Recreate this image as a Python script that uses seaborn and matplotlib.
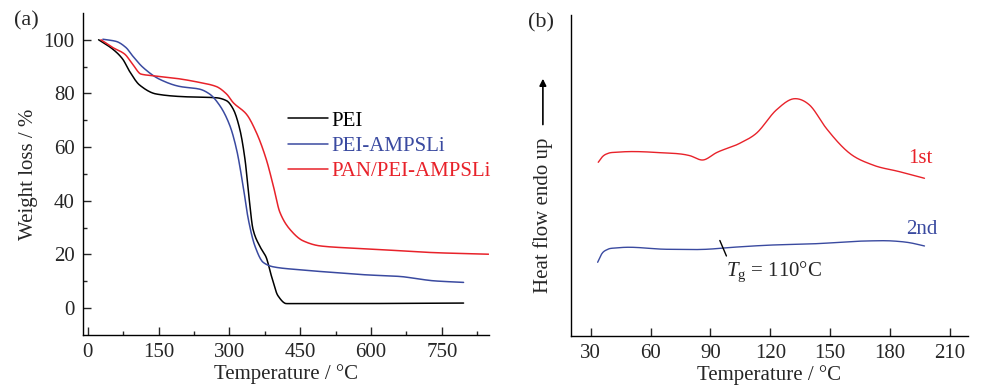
import numpy as np
import pandas as pd
import matplotlib
matplotlib.use("Agg")
import matplotlib.pyplot as plt
import seaborn as sns

# (a) TGA data
pei_T = [23, 53, 74, 88, 110, 145, 202, 272, 294, 308, 322, 333, 342, 350, 364, 378, 389, 403, 421, 520, 796]
pei_W = [100, 96.5, 92.8, 88.4, 83.1, 79.8, 78.8, 78.4, 77.3, 74.2, 66.7, 55.5, 40.6, 29.4, 23.2, 18.9, 12, 4.6, 1.7, 1.7, 1.9]

ampsli_T = [32, 60, 81, 95, 117, 152, 195, 237, 258, 280, 301, 315, 329, 340, 354, 372, 393, 449, 520, 591, 662, 704, 732, 796]
ampsli_W = [100.2, 99.4, 97.1, 94, 89.7, 85.3, 82.6, 81.6, 79.8, 75.4, 68, 59.3, 45.6, 33.2, 23.2, 17, 15.4, 14.3, 13.3, 12.4, 11.8, 10.8, 10.2, 9.6]

pan_T = [28, 53, 78, 95, 113, 138, 188, 237, 272, 294, 308, 336, 357, 378, 393, 407, 428, 456, 492, 555, 662, 732, 849]
pan_W = [100, 97.1, 94.7, 90.9, 87.2, 86.6, 85.6, 84.1, 82.6, 79.8, 76.6, 72.3, 65.5, 55.5, 45.6, 35.7, 29.4, 25.1, 23.2, 22.4, 21.4, 20.7, 20.1]

tga_names = ["PEI", "PEI-AMPSLi", "PAN/PEI-AMPSLi"]
tga_colors = ["black", "#3a4aa0", "#e8222a"]

# (b) DSC data (arbitrary units)
run1_T = [33.8, 36, 39, 43, 64.7, 79.7, 86.3, 93, 104.7, 113, 123, 132.2, 139.6, 148, 159.7, 171.3, 184.7, 197.2]
run1_H = [173.7, 179.5, 182.8, 183.7, 183.3, 180.3, 176, 183.3, 192.7, 202.7, 226, 237.3, 231, 207.7, 182.7, 171, 164.3, 157.7]
run2_T = [33.5, 35.5, 38.5, 43, 68, 88, 101.3, 118, 143, 168, 181.3, 189.7, 197.2]
run2_H = [73.7, 82, 86.6, 88, 86.7, 86.7, 88.7, 90.7, 92.3, 95, 95, 93.3, 90]

sns.set_theme(style="ticks")
plt.rcParams["font.family"] = ["Liberation Serif", "DejaVu Serif"]
plt.rcParams["mathtext.fontset"] = "custom"
plt.rcParams["mathtext.it"] = "Liberation Serif:italic"
plt.rcParams["mathtext.rm"] = "Liberation Serif"
fs = 15


def smooth(xs, ys, monotone=False, n=500):
    # cubic Hermite through the points
    xs = np.asarray(xs, float)
    ys = np.asarray(ys, float)
    h = np.diff(xs)
    d = np.diff(ys) / h
    m = np.zeros_like(ys)
    m[0], m[-1] = d[0], d[-1]
    for i in range(1, len(xs) - 1):
        if monotone:
            if d[i - 1] * d[i] <= 0:
                m[i] = 0
            else:
                w1 = 2 * h[i] + h[i - 1]
                w2 = h[i] + 2 * h[i - 1]
                m[i] = (w1 + w2) / (w1 / d[i - 1] + w2 / d[i])
        else:
            m[i] = (h[i] * d[i - 1] + h[i - 1] * d[i]) / (h[i - 1] + h[i])
    xx = np.linspace(xs[0], xs[-1], n)
    idx = np.clip(np.searchsorted(xs, xx) - 1, 0, len(xs) - 2)
    t = (xx - xs[idx]) / h[idx]
    h00 = 2 * t**3 - 3 * t**2 + 1
    h10 = t**3 - 2 * t**2 + t
    h01 = -2 * t**3 + 3 * t**2
    h11 = t**3 - t**2
    yy = h00 * ys[idx] + h10 * h[idx] * m[idx] + h01 * ys[idx + 1] + h11 * h[idx] * m[idx + 1]
    return xx, yy


fig = plt.figure(figsize=(9.92, 3.92), dpi=100)
ax1 = fig.add_axes([0.0837, 0.1454, 0.4093, 0.8216])
ax2 = fig.add_axes([0.5753, 0.1429, 0.4005, 0.8189])

# panel (a)
frames = []
for name, T, W in zip(tga_names, [pei_T, ampsli_T, pan_T], [pei_W, ampsli_W, pan_W]):
    xx, yy = smooth(T, W, monotone=True)
    frames.append(pd.DataFrame({"T": xx, "W": yy, "sample": name}))
tga = pd.concat(frames, ignore_index=True)
sns.lineplot(data=tga, x="T", y="W", hue="sample", hue_order=tga_names,
             palette=tga_colors, lw=1.1, sort=False, estimator=None, ax=ax1)
ax1.set_xlim(-10, 850)
ax1.set_ylim(-10, 110)
ax1.set_xticks([0, 150, 300, 450, 600, 750])
ax1.set_xticks(np.arange(75, 850, 150), minor=True)
ax1.set_yticks([0, 20, 40, 60, 80, 100])
ax1.set_yticks(np.arange(10, 110, 20), minor=True)
ax1.tick_params(direction="in", length=6, width=1, labelsize=fs, pad=6)
ax1.tick_params(which="minor", direction="in", length=3, width=1)
ax1.set_xlabel("Temperature / \u00b0C", fontsize=fs, labelpad=1)
ax1.set_ylabel("Weight loss / %", fontsize=fs, labelpad=4)
for s in ["top", "right"]:
    ax1.spines[s].set_visible(False)
for s in ["left", "bottom"]:
    ax1.spines[s].set_linewidth(1)
    ax1.spines[s].set_color("black")
leg = ax1.legend(loc="upper left", bbox_to_anchor=(0.505, 0.695), frameon=False,
                 fontsize=fs, handlelength=1.9, handletextpad=0.2, labelspacing=0.27,
                 borderpad=0, borderaxespad=0)
for txt, c in zip(leg.get_texts(), tga_colors):
    txt.set_color(c)
fig.text(0.014, 0.935, "(a)", fontsize=fs + 1)

# panel (b)
dsc = []
for name, T, H in zip(["1st", "2nd"], [run1_T, run2_T], [run1_H, run2_H]):
    xx, yy = smooth(T, H)
    dsc.append(pd.DataFrame({"T": xx, "H": yy, "run": name}))
dsc = pd.concat(dsc, ignore_index=True)
sns.lineplot(data=dsc, x="T", y="H", hue="run", palette=["#e8222a", "#3a4aa0"],
             lw=1.0, sort=False, estimator=None, legend=False, ax=ax2)
ax2.set_xlim(20, 219)
ax2.set_ylim(0, 321)
ax2.set_xticks(np.arange(30, 211, 30))
ax2.set_yticks([])
ax2.tick_params(direction="in", length=6, width=1, labelsize=fs, pad=6)
ax2.set_xlabel("Temperature / \u00b0C", fontsize=fs, labelpad=1)
ax2.set_ylabel("")
for s in ["top", "right"]:
    ax2.spines[s].set_visible(False)
for s in ["left", "bottom"]:
    ax2.spines[s].set_linewidth(1)
    ax2.spines[s].set_color("black")
ax2.text(-0.07, 0.377, "Heat flow endo up", rotation=90, ha="center", va="center",
         fontsize=fs, transform=ax2.transAxes)
ax2.annotate("", xy=(-0.07, 0.81), xytext=(-0.07, 0.65), xycoords="axes fraction",
             textcoords="axes fraction",
             arrowprops=dict(arrowstyle="-|>", color="black", lw=1.2, mutation_scale=10))
ax2.text(189, 177, "1st", color="#e8222a", fontsize=fs, ha="left", va="center")
ax2.text(188, 106, "2nd", color="#3a4aa0", fontsize=fs, ha="left", va="center")
ax2.plot([94.7, 98], [95.5, 80], color="black", lw=1)
ax2.text(98, 64, "$T_{\\mathrm{g}}$ = 110\u00b0C", fontsize=fs, ha="left", va="center")
fig.text(0.532, 0.93, "(b)", fontsize=fs + 1)

fig.savefig("out.png", dpi=100)
